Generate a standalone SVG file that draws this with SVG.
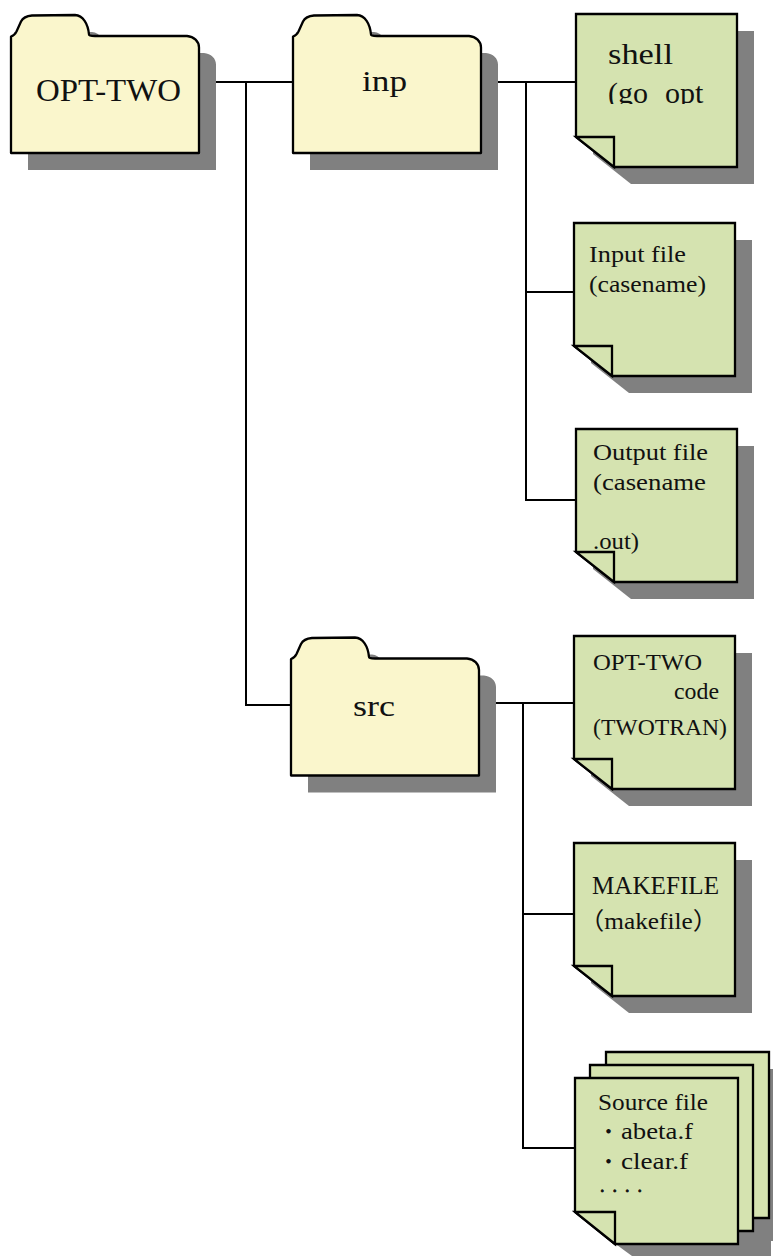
<svg xmlns="http://www.w3.org/2000/svg" width="773" height="1256" viewBox="0 0 773 1256">
<style>
.sh{fill:#808080;stroke:none}
.fo{fill:#FAF6CC;stroke:#000;stroke-width:2.300;stroke-linejoin:round}
.no{fill:#D5E3B0;stroke:#000;stroke-width:2.300;stroke-linejoin:miter}
.c{fill:none;stroke:#000;stroke-width:2}
text{font-family:"Liberation Serif","Noto Sans CJK JP",serif;fill:#111}
</style>
<defs>
<path id="folder" d="M0,22 C3,21 4.500,19 5.500,17 L10,7 C12,3 15,1.500 21,1 L64,0.500 C72,1 77,9 78,20 C78,21 80,21.500 84,21.500 L176,21.500 C183,22 188,27 188,33 L188,138.500 L0,138.500 Z"/>
<path id="note" d="M0,0 H161 V153 H38 L0,123 Z"/>
<path id="fold" d="M0,123 H38 V153 Z"/>
<clipPath id="shellClip"><rect x="580" y="20" width="150" height="84"/></clipPath>
</defs>
<g id="connectors" class="c">
<path d="M216,82 H293 M246,82 V705 H291"/>
<path d="M498,82 H576 M526,82 V500 H576 M526,292 H574"/>
<path d="M496,703 H574 M523,703 V1148 H575 M523,914 H574"/>
</g>
<g id="opt-two">
<use href="#folder" x="11" y="14.500" transform="translate(17 17)" class="sh"/>
<use href="#folder" x="11" y="14.500" class="fo"/>
<text x="36" y="101" font-size="32" textLength="145" lengthAdjust="spacingAndGlyphs">OPT-TWO</text>
</g>
<g id="inp">
<use href="#folder" x="293" y="14.500" transform="translate(17 17)" class="sh"/>
<use href="#folder" x="293" y="14.500" class="fo"/>
<text x="362" y="90.500" font-size="30" textLength="45" lengthAdjust="spacingAndGlyphs">inp</text>
</g>
<g id="src">
<use href="#folder" x="291" y="637" transform="translate(17 17)" class="sh"/>
<use href="#folder" x="291" y="637" class="fo"/>
<text x="353" y="716" font-size="30" textLength="42" lengthAdjust="spacingAndGlyphs">src</text>
</g>
<g id="shell">
<use href="#note" x="576" y="14" transform="translate(17 17)" class="sh"/>
<use href="#note" x="576" y="14" class="no"/>
<use href="#fold" x="576" y="14" class="no"/>
<g clip-path="url(#shellClip)" font-size="30">
<text x="608" y="64" textLength="65" lengthAdjust="spacingAndGlyphs">shell</text>
<text x="608" y="103">(go <tspan x="665">opt</tspan></text>
</g>
</g>
<g id="input-file" font-size="24">
<use href="#note" x="574" y="223" transform="translate(17 17)" class="sh"/>
<use href="#note" x="574" y="223" class="no"/>
<use href="#fold" x="574" y="223" class="no"/>
<text x="589" y="262" textLength="97" lengthAdjust="spacingAndGlyphs">Input file</text>
<text x="589" y="292" textLength="117" lengthAdjust="spacingAndGlyphs">(casename)</text>
</g>
<g id="output-file" font-size="24">
<use href="#note" x="576" y="429" transform="translate(17 17)" class="sh"/>
<use href="#note" x="576" y="429" class="no"/>
<use href="#fold" x="576" y="429" class="no"/>
<text x="593" y="460" textLength="115" lengthAdjust="spacingAndGlyphs">Output file</text>
<text x="593" y="490" textLength="113" lengthAdjust="spacingAndGlyphs">(casename</text>
<text x="593" y="549" textLength="46" lengthAdjust="spacingAndGlyphs">.out)</text>
</g>
<g id="opt-two-code" font-size="23">
<use href="#note" x="574" y="636" transform="translate(17 17)" class="sh"/>
<use href="#note" x="574" y="636" class="no"/>
<use href="#fold" x="574" y="636" class="no"/>
<text x="593" y="670" textLength="109" lengthAdjust="spacingAndGlyphs">OPT-TWO</text>
<text x="674" y="699" textLength="45" lengthAdjust="spacingAndGlyphs">code</text>
<text x="593" y="735" textLength="134" lengthAdjust="spacingAndGlyphs">(TWOTRAN)</text>
</g>
<g id="makefile" font-size="24">
<use href="#note" x="574" y="843" transform="translate(17 17)" class="sh"/>
<use href="#note" x="574" y="843" class="no"/>
<use href="#fold" x="574" y="843" class="no"/>
<text x="592" y="894" font-size="25" textLength="127" lengthAdjust="spacingAndGlyphs">MAKEFILE</text>
<text x="579" y="929" textLength="139" lengthAdjust="spacingAndGlyphs">（makefile）</text>
</g>
<g id="source-file" font-size="24">
<path class="sh" d="M623,1069 H773 V1256 H632 L595,1229 Z"/>
<rect x="771" y="1241" width="2" height="15" fill="#fff"/>
<path class="no" d="M606,1052 H769 V1218 H646 L606,1186 Z"/>
<path class="no" d="M590,1065 H753 V1231 H630 L590,1199 Z"/>
<path class="no" d="M575,1078 H738 V1244 H615 L575,1212 Z"/>
<path class="no" d="M575,1212 H615 V1244 Z"/>
<text x="598" y="1110" textLength="110" lengthAdjust="spacingAndGlyphs">Source file</text>
<text x="598" y="1139" font-size="21">・</text>
<text x="621" y="1139" textLength="72" lengthAdjust="spacingAndGlyphs">abeta.f</text>
<text x="598" y="1169" font-size="21">・</text>
<text x="621" y="1169" textLength="67" lengthAdjust="spacingAndGlyphs">clear.f</text>
<text x="600" y="1192" font-size="18" stroke="#111" stroke-width="0.8" textLength="42">....</text>
</g>
</svg>
